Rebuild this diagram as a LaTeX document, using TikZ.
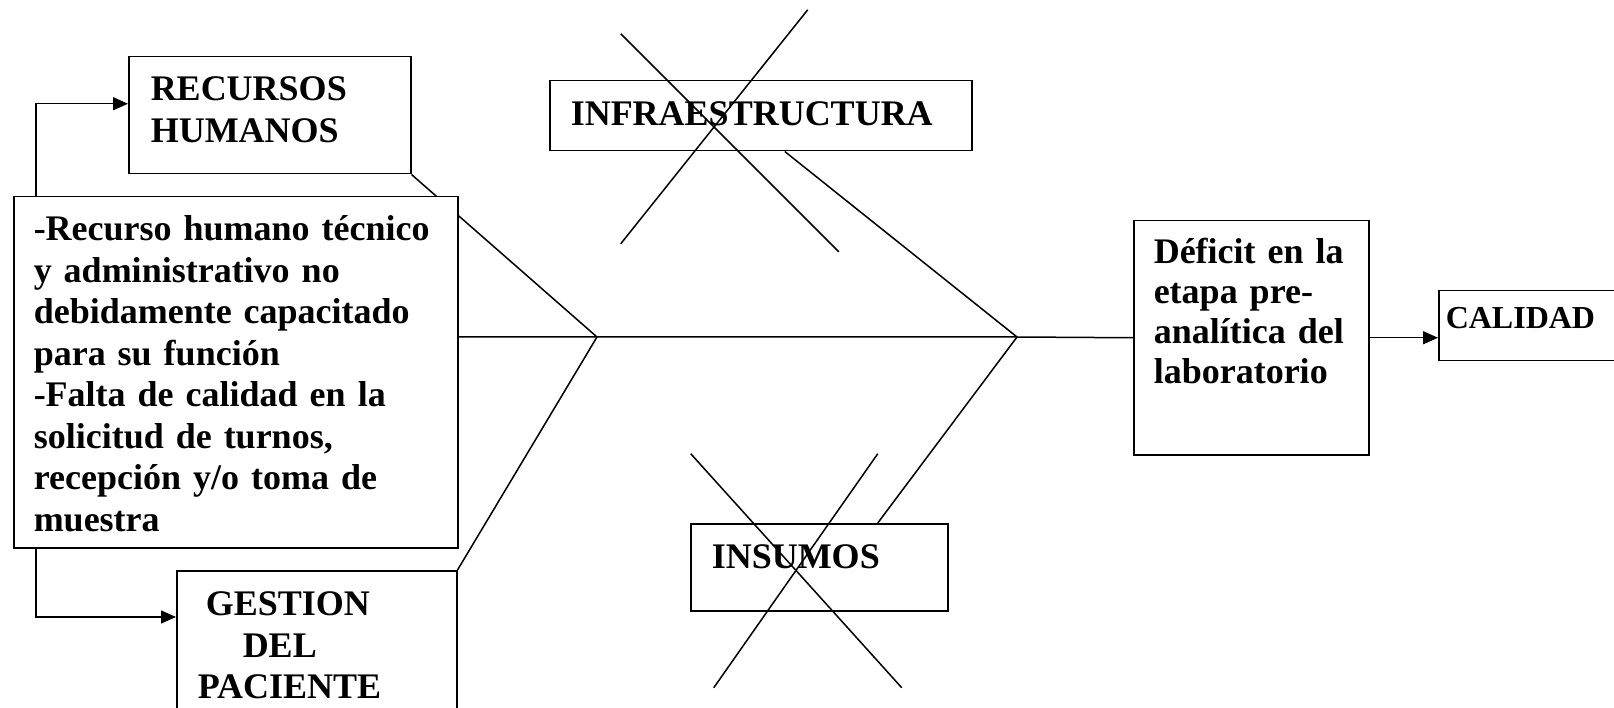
\documentclass[tikz,border=0pt]{standalone}
\usepackage{fontspec}
\setmainfont{Liberation Serif}
\usepackage{tikz}
\usetikzlibrary{arrows.meta}
\usetikzlibrary{positioning}
\usetikzlibrary{backgrounds}
\tikzstyle{caja}=[
        draw,
        rectangle,
        fill=white,
        line width=1.5pt,
        inner ysep=0pt,
        align=left,
        anchor=north west,
        font=\fontsize{36}{41.5}\selectfont\bfseries
]
\tikzstyle{flecha}=[-{Triangle[length=15pt,width=13pt]},line width=1.5pt]
\tikzstyle{rama}=[line width=1.5pt]
\tikzstyle{tache}=[line width=1.5pt]

\begin{document}
\begin{tikzpicture}[x=1pt,y=-1pt]
\useasboundingbox (0,0) rectangle (1614,708);
\clip (0,0) rectangle (1614,708);
\node[caja,inner xsep=22pt,text width=238pt,text height=44pt,text depth=73pt] (rh) at (128,56) {RECURSOS\\HUMANOS};
\node[caja,inner xsep=20pt,text width=404pt,text height=44pt,text depth=307pt] (causas) at (13,196) {-Recurso humano técnico\\y administrativo no\\debidamente capacitado\\para su función\\-Falta de calidad en la\\solicitud de turnos,\\recepción y/o toma de\\muestra};
\node[caja,inner xsep=20pt,text width=240pt,text height=45pt,text depth=145pt] (gestion) at (176,570) {\hspace*{9pt}GESTION\\\hspace*{46pt}DEL\\\hspace*{1pt}PACIENTE};
\node[caja,inner xsep=21pt,text width=380pt,text height=45pt,text depth=25pt] (infra) at (549,80) {INFRAESTRUCTURA};
\node[caja,inner xsep=21pt,text width=215pt,text height=45pt,text depth=42pt] (insumos) at (690,523) {INSUMOS};
\node[caja,inner xsep=20pt,text width=195pt,text height=43pt,text depth=191pt,font=\fontsize{36}{40}\selectfont\bfseries] (efecto) at (1133,220) {Déficit en la\\etapa pre-\\analítica del\\laboratorio};
\node[caja,inner xsep=7pt,text width=178pt,text height=38pt,text depth=32pt,font=\fontsize{32}{38}\selectfont\bfseries] (calidad) at (1438,290) {CALIDAD};
\coordinate (j1) at (597,337);
\coordinate (j2) at (1017,337);
% espina y ramas
\begin{scope}[on background layer]
\draw[rama] (rh.south east) -- (j1);
\draw[rama] (causas.east |- j1) -- (j1) -- (j2) -- (efecto.west);
\draw[rama] (j1) -- (gestion.north east);
\draw[rama] ([xshift=24pt]infra.south) -- (j2);
\draw[rama] ([xshift=58.5pt]insumos.north) -- (j2);
\end{scope}
% flechas
\draw[flecha] ([xshift=23pt]causas.north west) |- ([yshift=11.5pt]rh.west);
\draw[flecha] ([xshift=23pt]causas.south west) |- ([yshift=-47pt]gestion.north west);
\draw[flecha] (efecto.east) -- (efecto.east -| calidad.west);
% tachaduras
\draw[tache] ([shift={(-140,-82)}]infra.center) -- ([shift={(78,136)}]infra.center);
\draw[tache] ([shift={(47,-106)}]infra.center) -- ([shift={(-140,128)}]infra.center);
\draw[tache] ([shift={(-128.5,-113.5)}]insumos.center) -- ([shift={(82.5,120.5)}]insumos.center);
\draw[tache] ([shift={(58.5,-113.5)}]insumos.center) -- ([shift={(-105.5,120.5)}]insumos.center);
\end{tikzpicture}
\end{document}
